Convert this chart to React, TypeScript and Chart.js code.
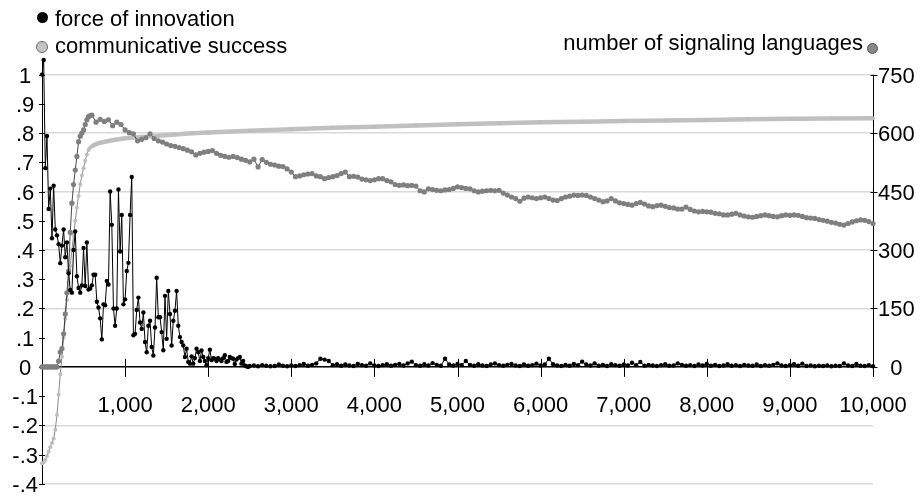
import React, { useEffect, useRef } from 'react';
import { Chart, registerables } from 'chart.js';

Chart.register(...registerables);

const FONT = "'Liberation Sans', Arial, sans-serif";

// ---- legend labels ----
const seriesLabels = ['force of innovation', 'communicative success', 'number of signaling languages'];

// ---- force of innovation (left axis) ----
const innovationEarlyStep = 20; // iterations 0 .. 2480
const innovationEarly = [
  1.0, 1.05, 0.68, 0.79, 0.54, 0.61, 0.44, 0.62, 0.47, 0.45,
  0.42, 0.355, 0.415, 0.47, 0.375, 0.426, 0.32, 0.263, 0.254, 0.40,
  0.463, 0.31, 0.27, 0.254, 0.279, 0.407, 0.277, 0.426, 0.265, 0.268,
  0.279, 0.315, 0.315, 0.223, 0.203, 0.166, 0.094, 0.214, 0.211, 0.294,
  0.282, 0.60, 0.486, 0.20, 0.141, 0.20, 0.607, 0.395, 0.52, 0.214,
  0.231, 0.328, 0.356, 0.52, 0.65, 0.108, 0.113, 0.195, 0.237, 0.152,
  0.13, 0.186, 0.085, 0.05, 0.141, 0.158, 0.068, 0.039, 0.135, 0.305,
  0.17, 0.17, 0.119, 0.057, 0.243, 0.096, 0.26, 0.181, 0.073, 0.158,
  0.192, 0.26, 0.141, 0.102, 0.085, 0.073, 0.034, 0.062, 0.017, 0.011,
  0.036, 0.011, 0.03, 0.062, 0.05, 0.02, 0.056, 0.034, 0.02, 0.006,
  0.03, 0.059, 0.023, 0.03, 0.028, 0.02, 0.03, 0.025, 0.02, 0.03,
  0.04, 0.017, 0.02, 0.034, 0.03, 0.028, 0.01, 0.025, 0.03, 0.034,
  0.011, 0.02, 0.005, 0.002, 0.0,
];
const innovationLateStart = 2500;
const innovationLateStep = 50; // iterations 2500 .. 10000
const innovationLate = [
  0.003, 0.005, 0.002, 0.006, 0.004, 0.002, 0.003, 0.008, 0.004, 0.002,
  0.005, 0.003, 0.006, 0.010, 0.004, 0.007, 0.012, 0.028, 0.025, 0.020,
  0.006, 0.009, 0.004, 0.008, 0.005, 0.003, 0.010, 0.006, 0.004, 0.012,
  0.005, 0.003, 0.006, 0.009, 0.004, 0.007, 0.010, 0.005, 0.012, 0.018,
  0.006, 0.004, 0.009, 0.005, 0.013, 0.007, 0.004, 0.028, 0.008, 0.005,
  0.010, 0.006, 0.020, 0.007, 0.004, 0.009, 0.005, 0.003, 0.008, 0.012,
  0.006, 0.004, 0.007, 0.010, 0.005, 0.003, 0.008, 0.004, 0.006, 0.011,
  0.005, 0.008, 0.028, 0.009, 0.005, 0.003, 0.007, 0.004, 0.010, 0.006,
  0.018, 0.008, 0.005, 0.012, 0.004, 0.007, 0.003, 0.009, 0.006, 0.004,
  0.008, 0.005, 0.014, 0.006, 0.017, 0.004, 0.007, 0.005, 0.003, 0.006,
  0.009, 0.004, 0.005, 0.012, 0.007, 0.004, 0.006, 0.003, 0.008, 0.005,
  0.010, 0.004, 0.007, 0.003, 0.005, 0.009, 0.004, 0.006, 0.003, 0.007,
  0.005, 0.004, 0.008, 0.003, 0.006, 0.004, 0.007, 0.012, 0.005, 0.003,
  0.006, 0.009, 0.004, 0.011, 0.003, 0.005, 0.002, 0.004, 0.003, 0.005,
  0.002, 0.004, 0.003, 0.012, 0.005, 0.003, 0.010, 0.004, 0.003, 0.006,
  0.002,
];

// ---- number of signaling languages (right axis) ----
const languagesEarlyStep = 20; // iterations 0 .. 580
const languagesEarly = [
  0, 0, 0, 0, 0, 0, 0, 0, 0, 0,
  15, 38, 47, 85, 136, 190, 246, 345, 420, 468,
  505, 540, 578, 592, 600, 608, 622, 634, 642, 645,
];
const languagesLateStart = 600;
const languagesLateStep = 50; // iterations 600 .. 10000
const languagesLate = [
  646, 628, 635, 630, 634, 619, 628, 622, 608, 601,
  598, 580, 584, 588, 598, 586, 580, 577, 572, 568,
  566, 563, 560, 556, 552, 544, 548, 551, 553, 555,
  548, 543, 540, 538, 540, 537, 533, 530, 526, 533,
  513, 532, 525, 520, 518, 515, 514, 508, 500, 488,
  490, 493, 495, 496, 490, 488, 483, 486, 488, 491,
  496, 500, 488, 489, 487, 482, 480, 478, 480, 483,
  483, 478, 475, 468, 466, 467, 465, 466, 464, 452,
  449, 457, 455, 453, 452, 454, 455, 458, 462, 460,
  458, 457, 452, 449, 451, 452, 453, 452, 453, 446,
  441, 436, 432, 425, 433, 436, 434, 432, 434, 436,
  432, 428, 427, 432, 436, 438, 441, 440, 441, 440,
  436, 432, 428, 424, 426, 432, 426, 421, 419, 417,
  415, 419, 422, 418, 413, 411, 414, 415, 412, 409,
  408, 405, 405, 410, 404, 400, 398, 399, 398, 397,
  394, 393, 390, 390, 392, 394, 390, 387, 385, 384,
  386, 388, 390, 388, 386, 385, 388, 390, 389, 390,
  389, 386, 383, 382, 381, 378, 376, 374, 371, 369,
  366, 364, 368, 372, 375, 377, 376, 373, 368,
];

// ---- communicative success (left axis) ----
const successIters = [
  0, 20, 40, 60, 80, 100, 120, 140, 160, 180,
  200, 220, 240, 260, 280, 300, 320, 340, 360, 380,
  400, 420, 440, 460, 480, 500, 520, 540, 560, 580,
  600, 650, 700, 800, 900, 1000, 1200, 1400, 1600, 1800,
  2000, 2500, 3000, 3500, 4000, 4500, 5000, 5500, 6000, 6500,
  7000, 7500, 8000, 8500, 9000, 9500, 10000,
];
const successValues = [
  -0.33, -0.327, -0.318, -0.305, -0.29, -0.275, -0.26, -0.245, -0.215, -0.165,
  -0.095, -0.025, 0.035, 0.10, 0.165, 0.23, 0.29, 0.345, 0.40, 0.45,
  0.50, 0.545, 0.585, 0.625, 0.655, 0.68, 0.705, 0.727, 0.742, 0.75,
  0.755, 0.762, 0.767, 0.773, 0.778, 0.782, 0.787, 0.791, 0.795, 0.799,
  0.802, 0.808, 0.813, 0.818, 0.822, 0.826, 0.830, 0.834, 0.837, 0.839,
  0.841, 0.843, 0.845, 0.847, 0.849, 0.850, 0.851,
];

// ---- axes ----
const xTickValues = [1000, 2000, 3000, 4000, 5000, 6000, 7000, 8000, 9000, 10000];
const xTickLabels = ['1,000', '2,000', '3,000', '4,000', '5,000', '6,000', '7,000', '8,000', '9,000', '10,000'];
const leftTickValues = [-0.4, -0.3, -0.2, -0.1, 0, 0.1, 0.2, 0.3, 0.4, 0.5, 0.6, 0.7, 0.8, 0.9, 1];
const leftTickLabels = ['-.4', '-.3', '-.2', '-.1', '0', '.1', '.2', '.3', '.4', '.5', '.6', '.7', '.8', '.9', '1'];
const rightTickValues = [0, 150, 300, 450, 600, 750];
const rightTickLabels = ['0', '150', '300', '450', '600', '750'];

const axisMarks = {
  id: 'axisMarks',
  beforeDatasetsDraw(chart: any) {
    const { ctx } = chart;
    const xs = chart.scales.x;
    const yl = chart.scales.y;
    const yr = chart.scales.y2;
    ctx.save();
    ctx.strokeStyle = '#000';
    ctx.lineWidth = 1;
    ctx.beginPath();
    const y0 = yl.getPixelForValue(0);
    xTickValues.forEach((v) => {
      const px = Math.round(xs.getPixelForValue(v)) + 0.5;
      ctx.moveTo(px, y0 - 8);
      ctx.lineTo(px, y0 + 10);
    });
    leftTickValues.forEach((v) => {
      const py = Math.round(yl.getPixelForValue(v)) + 0.5;
      ctx.moveTo(yl.right - 3, py);
      ctx.lineTo(yl.right + 3, py);
    });
    const xr = Math.round(yr.left) + 0.5;
    rightTickValues.forEach((v) => {
      const py = Math.round(yr.getPixelForValue(v)) + 0.5;
      ctx.moveTo(xr - 3, py);
      ctx.lineTo(xr + 4, py);
    });
    ctx.moveTo(xr, yr.getPixelForValue(0) + 2);
    ctx.lineTo(xr, yr.getPixelForValue(750));
    ctx.stroke();
    ctx.restore();
  },
};

export default function App() {
  const ref = useRef<HTMLCanvasElement | null>(null);

  useEffect(() => {
    if (!ref.current) return;
    const innovationPoints = [
      ...innovationEarly.map((y, i) => ({ x: i * innovationEarlyStep, y })),
      ...innovationLate.map((y, i) => ({ x: innovationLateStart + i * innovationLateStep, y })),
    ];
    const languagesPoints = [
      ...languagesEarly.map((y, i) => ({ x: i * languagesEarlyStep, y })),
      ...languagesLate.map((y, i) => ({ x: languagesLateStart + i * languagesLateStep, y })),
    ];
    const successPoints = successIters.map((x, i) => ({ x, y: successValues[i] }));

    const tickFont = { family: FONT, size: 22 };

    const chart = new Chart(ref.current, {
      type: 'line',
      data: {
        datasets: [
          {
            label: seriesLabels[0],
            data: innovationPoints,
            yAxisID: 'y',
            borderColor: '#000',
            borderWidth: 1,
            pointRadius: 2.2,
            pointBackgroundColor: '#000',
            pointBorderWidth: 0,
            clip: false,
          },
          {
            label: seriesLabels[2],
            data: languagesPoints,
            yAxisID: 'y2',
            borderColor: '#1a1a1a',
            borderWidth: 0.8,
            pointRadius: 2.6,
            pointBackgroundColor: '#7f7f7f',
            pointBorderWidth: 0,
            clip: false,
          },
          {
            label: seriesLabels[1],
            data: successPoints,
            yAxisID: 'y',
            borderColor: '#c0c0c0',
            borderWidth: 4.5,
            pointRadius: 2,
            pointBackgroundColor: '#bdbdbd',
            pointBorderWidth: 0,
            clip: false,
            segment: {
              borderColor: (c: any) => (c.p0.parsed.x < 600 ? '#8a8a8a' : '#c0c0c0'),
              borderWidth: (c: any) => (c.p0.parsed.x < 600 ? 1 : 4.5),
            },
          },
        ],
      } as any,
      options: {
        responsive: false,
        animation: false,
        layout: { padding: { top: 60, bottom: 14, left: 0, right: 0 } },
        plugins: { legend: { display: false }, tooltip: { enabled: false } },
        scales: {
          x: {
            type: 'linear',
            axis: 'x',
            position: { y: 0 },
            min: 0,
            max: 10000,
            afterBuildTicks: (s: any) => {
              s.ticks = xTickValues.map((v) => ({ value: v }));
            },
            afterFit: (s: any) => {
              s.paddingLeft = 0;
              s.paddingRight = 0;
            },
            ticks: {
              autoSkip: false,
              maxRotation: 0,
              padding: 26,
              font: tickFont,
              color: '#000',
              callback: (v: any) => xTickLabels[xTickValues.indexOf(v)] ?? '',
            },
            grid: { drawOnChartArea: false, drawTicks: false },
            border: { color: '#000', width: 1.5 },
          },
          y: {
            type: 'linear',
            position: 'left',
            min: -0.4,
            max: 1.05,
            afterBuildTicks: (s: any) => {
              s.ticks = leftTickValues.map((v) => ({ value: v }));
            },
            afterFit: (s: any) => {
              s.width = 42;
            },
            ticks: {
              crossAlign: 'center',
              padding: 4,
              labelOffset: 2,
              font: tickFont,
              color: '#000',
              callback: (v: any) => leftTickLabels[leftTickValues.indexOf(v)] ?? '',
            },
            grid: {
              color: (c: any) => {
                const v = c.tick ? c.tick.value : 1;
                return Math.round(v * 10) % 2 === 0 ? '#d9d9d9' : 'rgba(0,0,0,0)';
              },
              lineWidth: 1.5,
              drawTicks: false,
            },
            border: { color: '#000', width: 1 },
          },
          y2: {
            type: 'linear',
            position: 'right',
            min: -300,
            max: 787.5,
            afterBuildTicks: (s: any) => {
              s.ticks = rightTickValues.map((v) => ({ value: v }));
            },
            afterFit: (s: any) => {
              s.width = 47;
            },
            ticks: {
              crossAlign: 'center',
              padding: 5,
              labelOffset: 2,
              font: tickFont,
              color: '#000',
              callback: (v: any) => rightTickLabels[rightTickValues.indexOf(v)] ?? '',
            },
            grid: { drawOnChartArea: false, drawTicks: false },
            border: { display: false },
          },
        },
      } as any,
      plugins: [axisMarks],
    });
    return () => chart.destroy();
  }, []);

  const textStyle: React.CSSProperties = {
    position: 'absolute',
    fontFamily: FONT,
    fontSize: 22,
    lineHeight: '22px',
    color: '#000',
    whiteSpace: 'nowrap',
  };
  const dot = (left: number, top: number, size: number, bg: string, border: string): React.CSSProperties => ({
    position: 'absolute',
    left,
    top,
    width: size,
    height: size,
    borderRadius: '50%',
    background: bg,
    border,
    boxSizing: 'border-box',
  });

  return (
    <div style={{ position: 'fixed', left: 0, top: 0, width: 920, height: 502, background: '#fff', overflow: 'hidden' }}>
      <canvas ref={ref} width={920} height={502} style={{ position: 'absolute', left: 0, top: 0 }} />
      <div style={dot(36.5, 12, 11, '#000', 'none')} />
      <div style={{ ...textStyle, left: 55, top: 7.7 }}>{seriesLabels[0]}</div>
      <div style={dot(35.5, 40.5, 12, '#c4c4c4', '1.2px solid #6a6a6a')} />
      <div style={{ ...textStyle, left: 55, top: 34.6 }}>{seriesLabels[1]}</div>
      <div style={{ ...textStyle, right: 57, top: 32.4 }}>{seriesLabels[2]}</div>
      <div style={dot(867, 43, 11, '#888', '1px solid #555')} />
    </div>
  );
}
